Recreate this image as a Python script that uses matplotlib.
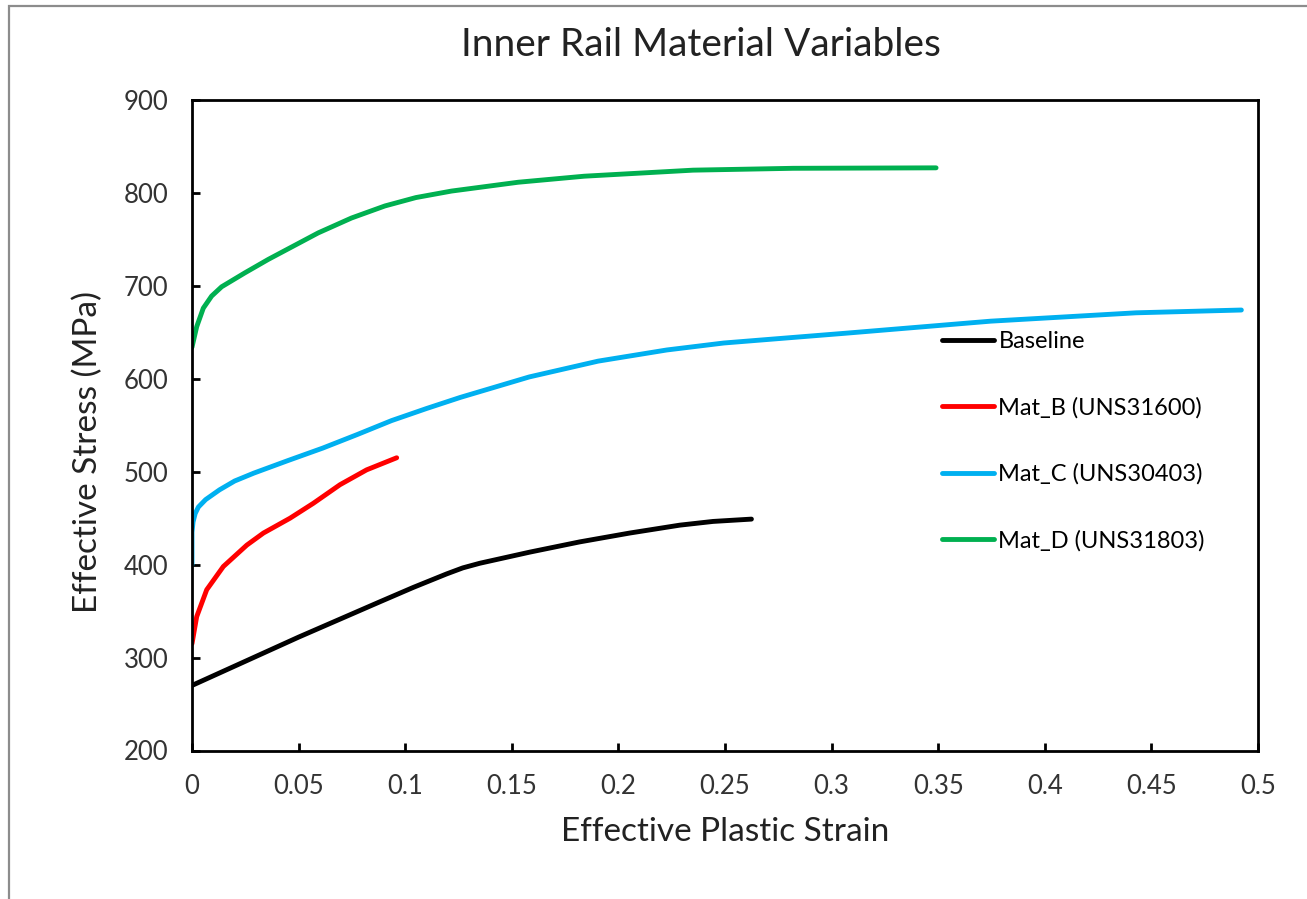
import matplotlib
matplotlib.use("Agg")
import matplotlib.pyplot as plt
from matplotlib.patches import Rectangle

plt.rcParams["font.family"] = ["Lato", "DejaVu Sans"]

# strain / stress pairs for each material
base_strain = [0, 0.025, 0.05, 0.0881, 0.1038, 0.1194, 0.127, 0.135, 0.1585, 0.1819, 0.2053,
               0.2288, 0.2444, 0.2624]
base_stress = [270, 296, 322, 360, 375.5, 390, 396.5, 401.5, 413.5, 424.5, 434,
               442.5, 446.5, 449]

matb_strain = [0, 0.0022, 0.0069, 0.0147, 0.0257, 0.0335, 0.046, 0.0569, 0.0694, 0.0819, 0.096]
matb_stress = [315, 344, 373, 398, 421, 434, 450, 466, 486, 502, 515]

matc_strain = [0, 0, 0.0005, 0.0015, 0.003, 0.0064, 0.0129, 0.02, 0.029, 0.045,
               0.0613, 0.0775, 0.0936, 0.11, 0.1259, 0.1582, 0.1905, 0.2227, 0.2494,
               0.3064, 0.3746, 0.4428, 0.4922]
matc_stress = [400, 435, 446, 455, 462, 470, 480.5, 490, 498.5, 512,
               525.4, 540, 555, 568, 580, 602, 619, 631, 638.5,
               649, 662, 671, 674]

matd_strain = [0, 0.0022, 0.0053, 0.0092, 0.0139, 0.0248, 0.0358, 0.0436, 0.0592, 0.0748,
               0.0905, 0.105, 0.1217, 0.153, 0.184, 0.235, 0.282, 0.349]
matd_stress = [634, 656, 676, 689, 699, 714, 728.5, 738, 757, 773,
               786, 795, 802, 811.5, 818, 824.5, 826.5, 827]

labels = ["Baseline", "Mat_B (UNS31600)", "Mat_C (UNS30403)", "Mat_D (UNS31803)"]
colors = ["#000000", "#FF0000", "#00B0F0", "#00B050"]

W, H = 1307, 899
fig = plt.figure(figsize=(W / 100, H / 100), dpi=100)
ax = fig.add_axes([192 / W, 1 - 750.5 / H, (1258 - 192) / W, (750.5 - 100) / H])

series = [(base_strain, base_stress), (matb_strain, matb_stress),
          (matc_strain, matc_stress), (matd_strain, matd_stress)]
for (xs, ys), lab, col in zip(series, labels, colors):
    ax.plot(xs, ys, color=col, lw=3.5, label=lab, solid_capstyle="round",
            solid_joinstyle="round")

ax.set_xlim(0, 0.5)
ax.set_ylim(200, 900)
ax.set_xticks([0, 0.05, 0.1, 0.15, 0.2, 0.25, 0.3, 0.35, 0.4, 0.45, 0.5])
ax.set_xticklabels(["0", "0.05", "0.1", "0.15", "0.2", "0.25", "0.3", "0.35", "0.4", "0.45", "0.5"])
ax.set_yticks(range(200, 901, 100))

for sp in ax.spines.values():
    sp.set_linewidth(2.0)
ax.tick_params(direction="in", length=6, width=2, labelsize=18.5, colors="black",
               labelcolor="#333333", pad=17)

ax.set_xlabel("Effective Plastic Strain", fontsize=24, color="#222222")
ax.xaxis.set_label_coords(0.5, (750.5 - 832) / (750.5 - 100), transform=ax.transAxes)
ax.set_ylabel("Effective Stress (MPa)", fontsize=24, color="#222222")
ax.yaxis.set_label_coords((88 - 192) / (1258 - 192), (750.5 - 452) / (750.5 - 100))
ax.yaxis.label.set_va("center")
ax.xaxis.label.set_va("center")

fig.text(701 / W, 1 - 45 / H, "Inner Rail Material Variables", fontsize=28,
         color="#222222", ha="center", va="center")

ax.legend(loc="upper left", bbox_to_anchor=(0.6945, 0.659), frameon=False,
          fontsize=17, handlelength=2.2, handletextpad=0.2, labelspacing=1.9,
          borderaxespad=0)

# thin grey frame around the chart area
fig.patches.append(Rectangle((9 / W, -0.05), 1.2, 1 - 6 / H + 0.05,
                             transform=fig.transFigure, fill=False,
                             edgecolor="#8c8c8c", lw=1.6))

fig.savefig("out.png", dpi=100)
